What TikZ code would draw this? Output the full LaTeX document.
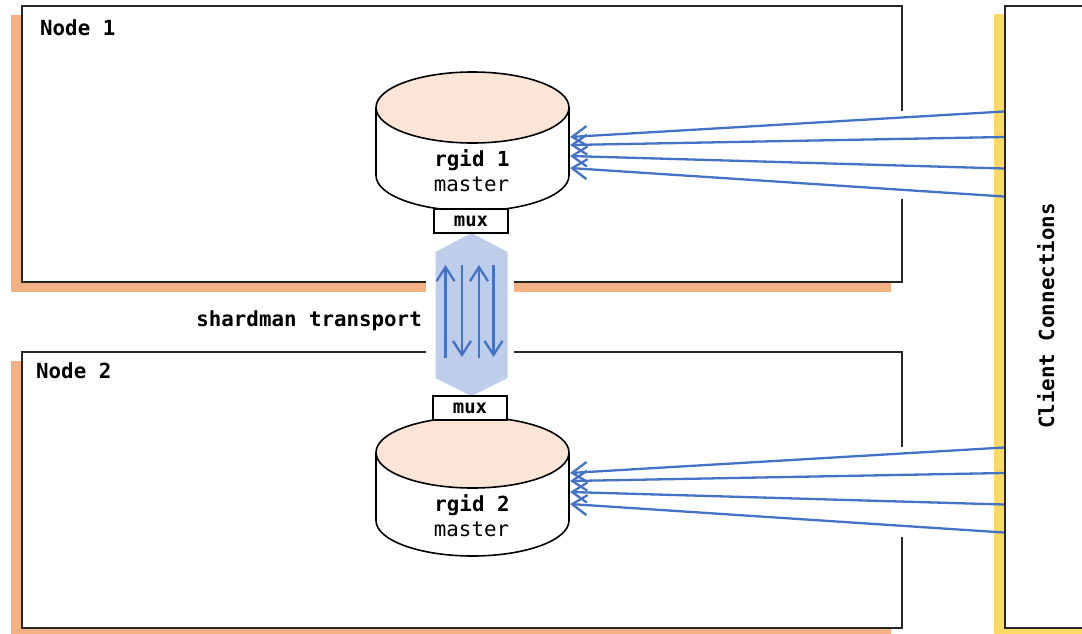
\documentclass[tikz,border=0pt]{standalone}
\usepackage{fontspec}
\setmonofont{DejaVu Sans Mono}
\usetikzlibrary{arrows.meta}
\definecolor{shadoworange}{RGB}{244,177,131}
\definecolor{shadowyellow}{RGB}{255,217,102}
\definecolor{dbtop}{RGB}{251,229,214}
\definecolor{linkblue}{RGB}{68,114,196}
\definecolor{hexblue}{RGB}{190,206,234}
\newcommand\drawdb[1]{%
  \filldraw[dbline, fill=white] (376,#1) -- ++(0,68) arc[start angle=180, end angle=0, x radius=96.5, y radius=35.5] -- ++(0,-68);
  \filldraw[dbline, fill=dbtop] (472.5,#1) ellipse[x radius=96.5, y radius=35.5];
}
\begin{document}
\begin{tikzpicture}[x=1pt,y=-1pt,
  lbl/.style={font=\ttfamily\bfseries\fontsize{20.8}{25}\selectfont, inner sep=0pt},
  lblreg/.style={font=\ttfamily\fontsize{20.8}{25}\selectfont, inner sep=0pt},
  nodebox/.style={draw=black!85, line width=1.6pt, fill=white, anchor=north west, inner sep=0pt},
  dbline/.style={draw=black, line width=1.6pt},
  muxbox/.style={draw=black, line width=1.4pt, fill=white, minimum width=74pt, minimum height=24pt, inner sep=0pt, font=\ttfamily\bfseries\fontsize{19}{22}\selectfont},
  link/.style={draw=linkblue, line width=2.3pt, -{Straight Barb[length=15pt,width=20pt]}},
  hexarrow/.style={draw=linkblue, line width=2.3pt, -{Straight Barb[length=14pt,width=18pt]}}]
\clip (0,0) rectangle (1082,633);
% shadows
\fill[shadoworange] (11,15) rectangle (891,292);
\fill[shadoworange] (11,361) rectangle (891,640);
\fill[shadowyellow] (994,14) rectangle (1090,640);
% boxes
\node[nodebox, minimum width=880pt, minimum height=276pt] (n1) at (21,5) {};
\node[nodebox, minimum width=880pt, minimum height=276pt] (n2) at (21,351) {};
\node[nodebox, minimum width=100pt, minimum height=622pt] (cl) at (1004,5) {};
% gaps in the borders
\fill[white] (426,276) rectangle (514,357);
\fill[white] (894,111) rectangle (908,199);
\fill[white] (894,447) rectangle (908,537);
% labels
\node[lbl, anchor=base west] (l1) at (40,35) {Node 1};
\node[lbl, anchor=base west] (l2) at (36,378) {Node 2};
\node[lbl, anchor=base east] (tr) at (422,326) {shardman transport};
\node[lbl, rotate=90, anchor=base] (cc) at (1054,316) {Client Connections};
% databases
\drawdb{107.5}
\drawdb{452.5}
\node[lbl, anchor=base] (r1) at (472,166) {rgid 1};
\node[lblreg, anchor=base] (s1) at (471.5,191) {master};
\node[lbl, anchor=base] (r2) at (472,511) {rgid 2};
\node[lblreg, anchor=base] (s2) at (471.5,536) {master};
% transport
\fill[hexblue] (471.5,233) -- (507.5,252) -- (507.5,378) -- (471.5,396) -- (435.5,378) -- (435.5,252) -- cycle;
\node[muxbox] (m1) at (471,221) {mux};
\node[muxbox] (m2) at (470,408) {mux};
\coordinate (u1b) at (445.5,358); \coordinate (u1t) at (445.5,265);
\coordinate (d1t) at (462,265);   \coordinate (d1b) at (462,357);
\coordinate (u2b) at (479,358);   \coordinate (u2t) at (479,265);
\coordinate (d2t) at (493.5,265); \coordinate (d2b) at (493.5,357);
\draw[hexarrow] (u1b) -- (u1t);
\draw[hexarrow] (d1t) -- (d1b);
\draw[hexarrow] (u2b) -- (u2t);
\draw[hexarrow] (d2t) -- (d2b);
% client links
\foreach \i/\s/\t in {1/111.5/137,2/137/145,3/168.5/156,4/196.5/168}{
  \coordinate (ca\i) at (1004,\s);
  \coordinate (da\i) at (570,\t);
  \coordinate (cb\i) at (1004,{\s+336});
  \coordinate (db\i) at (570,{\t+336});
  \draw[link] (ca\i) -- (da\i);
  \draw[link] (cb\i) -- (db\i);
}
\end{tikzpicture}
\end{document}
